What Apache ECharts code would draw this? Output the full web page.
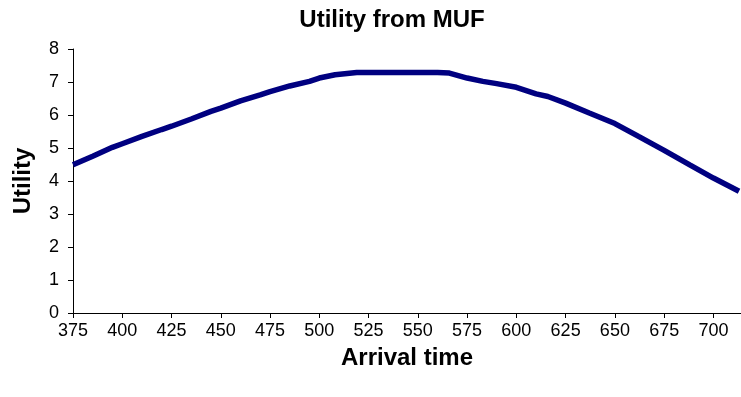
<!DOCTYPE html>
<html>
<head>
<meta charset="utf-8">
<title>Utility from MUF</title>
<script src="https://cdn.jsdelivr.net/npm/echarts@6/dist/echarts.min.js"></script>
<style>
  html, body { margin: 0; padding: 0; background: #ffffff; }
  #chart { width: 741px; height: 397px; }
</style>
</head>
<body>
<div id="chart"></div>
<script>
// Arrival times (minutes) and the utility at each one
const arrivalTimes = [375, 385, 395, 400, 410, 420, 425, 435, 445, 450, 460, 470, 475, 485, 495, 500,
  508, 519, 530, 540, 550, 560, 566, 575, 583, 590, 600, 610, 616, 625, 637, 650, 662, 675, 688, 700, 713];
const utilityValues = [4.49, 4.75, 5.02, 5.13, 5.35, 5.56, 5.66, 5.88, 6.11, 6.21, 6.43, 6.61, 6.71, 6.88, 7.02, 7.12,
  7.22, 7.29, 7.29, 7.29, 7.29, 7.29, 7.27, 7.12, 7.02, 6.95, 6.84, 6.64, 6.56, 6.36, 6.06, 5.74, 5.35, 4.93, 4.49, 4.09, 3.69];

// Axis tick values
const xTicks = [375, 400, 425, 450, 475, 500, 525, 550, 575, 600, 625, 650, 675, 700];
const yTicks = [0, 1, 2, 3, 4, 5, 6, 7, 8];

const FONT = '"Liberation Sans", Arial, sans-serif';
const chart = echarts.init(document.getElementById('chart'), null, { renderer: 'canvas' });

chart.setOption({
  animation: false,
  backgroundColor: '#ffffff',
  title: {
    text: 'Utility from MUF',
    left: 387,
    top: 3,
    textAlign: 'center',
    textStyle: { fontFamily: FONT, fontSize: 24, fontWeight: 'bold', color: '#000000' }
  },
  grid: { left: 73, right: 0, top: 49, bottom: 84, containLabel: false },
  xAxis: {
    type: 'value',
    min: 375,
    max: 714,
    interval: 25,
    name: 'Arrival time',
    nameLocation: 'middle',
    nameGap: 33,
    nameTextStyle: { fontFamily: FONT, fontSize: 24, fontWeight: 'bold', color: '#000000' },
    axisLine: { show: true, lineStyle: { color: '#000000', width: 1 } },
    axisTick: { show: true, length: 5, lineStyle: { color: '#000000' }, customValues: xTicks },
    axisLabel: { fontFamily: FONT, fontSize: 18, color: '#000000', margin: 9, customValues: xTicks },
    splitLine: { show: false }
  },
  yAxis: {
    type: 'value',
    min: 0,
    max: 8,
    interval: 1,
    name: 'Utility',
    nameLocation: 'middle',
    nameGap: 38,
    nameTextStyle: { fontFamily: FONT, fontSize: 24, fontWeight: 'bold', color: '#000000' },
    axisLine: { show: true, lineStyle: { color: '#000000', width: 1 } },
    axisTick: { show: true, length: 5, lineStyle: { color: '#000000' }, customValues: yTicks },
    axisLabel: { fontFamily: FONT, fontSize: 18, color: '#000000', margin: 14, customValues: yTicks },
    splitLine: { show: false }
  },
  series: [{
    type: 'line',
    data: arrivalTimes.map((t, i) => [t, utilityValues[i]]),
    showSymbol: false,
    symbol: 'none',
    lineStyle: { color: '#000080', width: 5.5 },
    itemStyle: { color: '#000080' },
    clip: false
  }]
});
</script>
</body>
</html>
